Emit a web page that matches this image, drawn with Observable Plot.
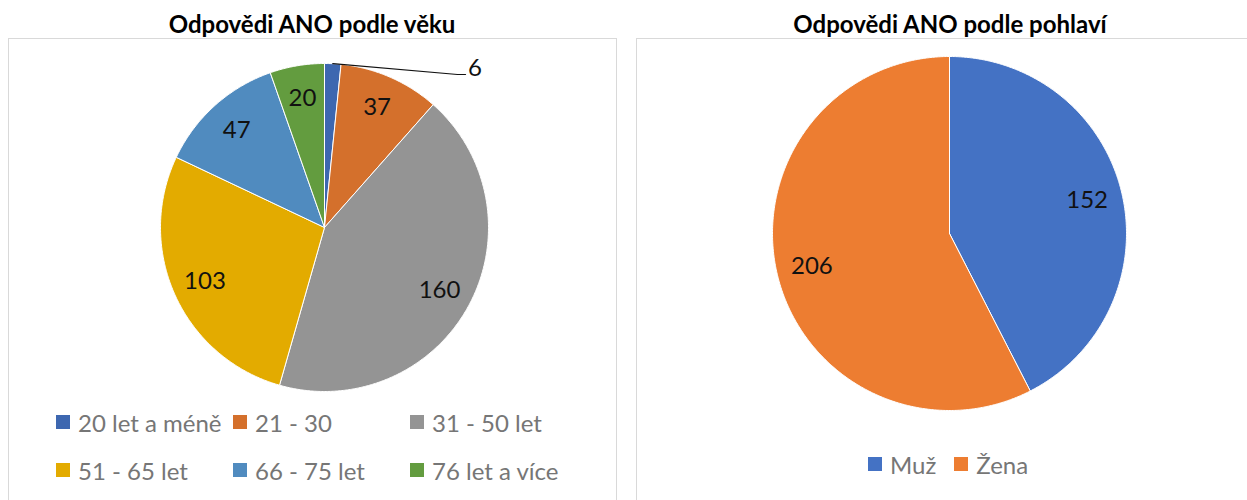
<!DOCTYPE html>
<html><head><meta charset="utf-8">
<script src="https://cdn.jsdelivr.net/npm/d3@7"></script>
<script src="https://cdn.jsdelivr.net/npm/@observablehq/plot@0.6"></script>
<style>
body{margin:0;background:#fff;font-family:Lato,"Open Sans",sans-serif;}
#root{position:relative;width:1247px;height:500px;overflow:hidden;background:#fff;}
.panel{position:absolute;border:1px solid #d9d9d9;box-sizing:border-box;}
.title{position:absolute;font-weight:bold;font-size:24px;line-height:1;color:#000;transform:translateX(-50%);white-space:nowrap;}
.plot{position:absolute;}
.legend{position:absolute;font-size:24px;color:#767676;}
.legend .item{display:flex;align-items:center;height:48px;white-space:nowrap;}
.legend .sw{width:14px;height:14px;margin-right:8px;flex:none;}
</style>
</head><body>
<div id="root"></div>
<script>
// ---- data ----
const ageTitle = "Odpovědi ANO podle věku";
const ageCategories = ["20 let a méně", "21 - 30", "31 - 50 let", "51 - 65 let", "66 - 75 let", "76 let a více"];
const ageValues = [6, 37, 160, 103, 47, 20];
const ageColors = ["#3d67b0", "#d4702c", "#949494", "#e3ab00", "#508bbf", "#639c3f"];

const genderTitle = "Odpovědi ANO podle pohlaví";
const genderCategories = ["Muž", "Žena"];
const genderValues = [152, 206];
const genderColors = ["#4472c4", "#ed7d31"];

// ---- helpers ----
const root = document.getElementById("root");
function el(tag, cls, style, text) {
  const e = document.createElement(tag);
  if (cls) e.className = cls;
  Object.assign(e.style, style || {});
  if (text != null) e.textContent = text;
  return e;
}

function pie({cats, vals, colors, width, height, cx, cy, r}) {
  const arcs = d3.pie().sort(null).value(d => d)(vals);
  const total = d3.sum(vals);
  const pts = [];
  const inside = [];
  const outside = [];
  const leaders = [];
  arcs.forEach((a, i) => {
    const cat = cats[i];
    const n = Math.max(2, Math.ceil((a.endAngle - a.startAngle) / (Math.PI / 360)));
    pts.push({cat, x: 0, y: 0});
    for (let k = 0; k <= n; k++) {
      const t = a.startAngle + (a.endAngle - a.startAngle) * k / n;
      pts.push({cat, x: r * Math.sin(t), y: r * Math.cos(t)});
    }
    pts.push({cat, x: 0, y: 0});
    const m = (a.startAngle + a.endAngle) / 2;
    if (vals[i] / total < 0.03) {
      // callout label outside the pie
      leaders.push({g: i, x: r * Math.sin(m), y: r * Math.cos(m)});
      leaders.push({g: i, x: 0.811 * r, y: 0.933 * r});
      leaders.push({g: i, x: 0.86 * r, y: 0.933 * r});
      outside.push({x: 0.875 * r, y: 0.97 * r, text: String(vals[i])});
    } else {
      inside.push({x: 0.8 * r * Math.sin(m), y: 0.8 * r * Math.cos(m), text: String(vals[i])});
    }
  });
  return Plot.plot({
    width, height, margin: 0,
    style: {fontFamily: "Lato, 'Open Sans', sans-serif", background: "transparent", overflow: "visible"},
    x: {domain: [-cx, width - cx], axis: null},
    y: {domain: [cy - height, cy], axis: null},
    color: {domain: cats, range: colors},
    marks: [
      Plot.line(pts, {x: "x", y: "y", z: "cat", fill: "cat", stroke: "#fff", strokeWidth: 1, strokeLinejoin: "round", curve: "linear"}),
      Plot.text(inside, {x: "x", y: "y", text: "text", fontSize: 24, fill: "#111"}),
      Plot.line(leaders, {x: "x", y: "y", z: "g", stroke: "#111", strokeWidth: 1.2, curve: "linear"}),
      Plot.text(outside, {x: "x", y: "y", text: "text", fontSize: 24, fill: "#111", textAnchor: "start"})
    ]
  });
}

function legend(cats, colors, style, gridCols) {
  const lg = el("div", "legend", style);
  if (gridCols) {
    lg.style.display = "grid";
    lg.style.gridTemplateColumns = `repeat(${gridCols}, 177px)`;
  } else {
    lg.style.display = "flex";
  }
  cats.forEach((c, i) => {
    const it = el("div", "item", gridCols ? {} : {marginRight: "18px"});
    it.appendChild(el("span", "sw", {background: colors[i]}));
    it.appendChild(el("span", null, {}, c));
    lg.appendChild(it);
  });
  return lg;
}

// ---- left panel ----
root.appendChild(el("div", "panel", {left: "8px", top: "38px", width: "609px", height: "480px"}));
root.appendChild(el("div", "title", {left: "312px", top: "12px"}, ageTitle));
const p1 = el("div", "plot", {left: "8px", top: "38px"});
p1.appendChild(pie({cats: ageCategories, vals: ageValues, colors: ageColors, width: 608, height: 360, cx: 316, cy: 189, r: 164}));
root.appendChild(p1);
root.appendChild(legend(ageCategories, ageColors, {left: "56px", top: "398px"}, 3));

// ---- right panel ----
root.appendChild(el("div", "panel", {left: "636px", top: "38px", width: "640px", height: "480px"}));
root.appendChild(el("div", "title", {left: "950px", top: "12px"}, genderTitle));
const p2 = el("div", "plot", {left: "637px", top: "38px"});
p2.appendChild(pie({cats: genderCategories, vals: genderValues, colors: genderColors, width: 610, height: 380, cx: 312, cy: 195, r: 177}));
root.appendChild(p2);
root.appendChild(legend(genderCategories, genderColors, {left: "868px", top: "440px"}, 0));
</script>
</body></html>
